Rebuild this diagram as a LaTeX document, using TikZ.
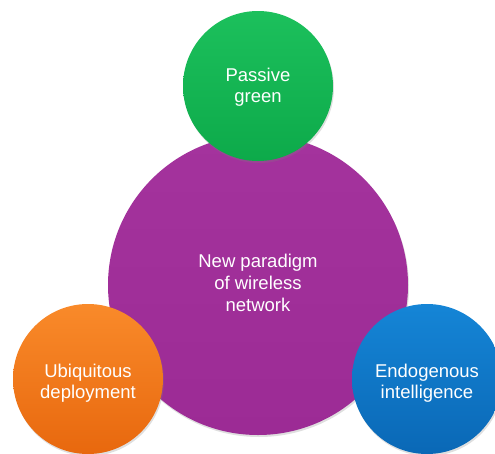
\documentclass[tikz,border=0pt]{standalone}
\usepackage{fontspec}
\setmainfont{Liberation Sans}
\usetikzlibrary{shadows}
\definecolor{cpurple}{HTML}{9C2B95}
\definecolor{cpurpleT}{HTML}{A4339D}
\definecolor{cgreenT}{HTML}{1CC05C}
\definecolor{cgreenB}{HTML}{0DAA4A}
\definecolor{corangeT}{HTML}{F98A2A}
\definecolor{corangeB}{HTML}{E8680E}
\definecolor{cblueT}{HTML}{1585D6}
\definecolor{cblueB}{HTML}{0A68B6}
\tikzset{
  bubble/.style={circle, inner sep=0pt,
    drop shadow={shadow xshift=1pt, shadow yshift=-2pt, opacity=0.25}},
  big/.style={bubble, minimum size=300pt, top color=cpurpleT, bottom color=cpurple},
  small/.style={bubble, minimum size=150pt},
  label text/.style={text=white, align=center, inner sep=0pt,
    font=\fontsize{18.5}{21}\selectfont},
  big text/.style={label text, font=\fontsize{18.5}{22}\selectfont},
}
\begin{document}
\begin{tikzpicture}[x=1pt,y=-1pt]
\useasboundingbox (0,0) rectangle (495,453);
\node[big] (core) at (258,285) {};
\node[small, top color=cgreenT, bottom color=cgreenB] (green) at (258,86) {};
\node[small, top color=corangeT, bottom color=corangeB] (orange) at (88,379) {};
\node[small, top color=cblueT, bottom color=cblueB] (blue) at (427,379) {};
\node[big text] (core-t) at (258,282.5) {New paradigm\\of wireless\\network};
\node[label text] (green-t) at (258,87.5) {Passive\\green};
\node[label text] (orange-t) at (88,383) {Ubiquitous\\deployment};
\node[label text] (blue-t) at (427,383) {Endogenous\\intelligence};
\end{tikzpicture}
\end{document}
